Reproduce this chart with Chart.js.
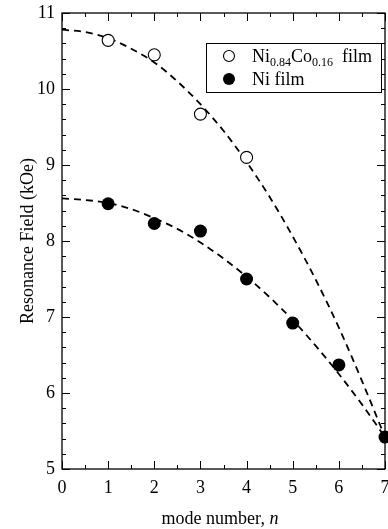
<!DOCTYPE html>
<html>
<head>
<meta charset="utf-8">
<script src="https://cdn.jsdelivr.net/npm/chart.js@4"></script>
<style>
  html, body { margin: 0; padding: 0; background: #fff; }
  #wrap { width: 388px; height: 529px; }
</style>
</head>
<body>
<div id="wrap"><canvas id="myChart" width="388" height="529"></canvas></div>
<script>
// measured points
const modes = [1, 2, 3, 4, 5, 6, 7];
const niCoField = [10.64, 10.45, 9.67, 9.10];
const niField = [8.49, 8.23, 8.13, 7.50, 6.92, 6.37, 5.42];

// dashed fit curves
const fitModes = [0, 0.5, 1, 1.5, 2, 2.5, 3, 3.5, 4, 4.5, 5, 5.5, 6, 6.5, 7];
const niCoFit = [10.78, 10.75, 10.67, 10.53, 10.35, 10.10, 9.80, 9.45, 9.04, 8.58, 8.06, 7.49, 6.86, 6.16, 5.42];
const niFit = [8.56, 8.54, 8.50, 8.42, 8.30, 8.16, 7.98, 7.77, 7.53, 7.26, 6.96, 6.62, 6.25, 5.85, 5.42];

// axis ticks
const xMajor = [0, 1, 2, 3, 4, 5, 6, 7];
const xMinor = [0.5, 1.5, 2.5, 3.5, 4.5, 5.5, 6.5];
const yMajor = [5, 6, 7, 8, 9, 10, 11];
const yMinor = [5.2, 5.4, 5.6, 5.8, 6.2, 6.4, 6.6, 6.8, 7.2, 7.4, 7.6, 7.8, 8.2, 8.4, 8.6, 8.8,
  9.2, 9.4, 9.6, 9.8, 10.2, 10.4, 10.6, 10.8];

const FONT = '"Liberation Serif", "Times New Roman", serif';

const toXY = (xs, ys) => ys.map((v, i) => ({ x: xs[i], y: v }));

// frame + inward ticks on all four sides
const frame = {
  id: 'frame',
  afterDatasetsDraw(chart) {
    const { ctx, chartArea: a, scales: { x, y } } = chart;
    ctx.save();
    ctx.strokeStyle = '#000';
    ctx.lineWidth = 1.3;
    ctx.strokeRect(a.left, a.top, a.right - a.left, a.bottom - a.top);
    ctx.lineWidth = 1;
    ctx.beginPath();
    const xt = (v, len) => {
      const px = Math.round(x.getPixelForValue(v)) + 0.5;
      ctx.moveTo(px, a.bottom); ctx.lineTo(px, a.bottom - len);
      ctx.moveTo(px, a.top); ctx.lineTo(px, a.top + len);
    };
    const yt = (v, len) => {
      const py = Math.round(y.getPixelForValue(v)) + 0.5;
      ctx.moveTo(a.left, py); ctx.lineTo(a.left + len, py);
      ctx.moveTo(a.right, py); ctx.lineTo(a.right - len, py);
    };
    xMajor.forEach(v => xt(v, 8));
    xMinor.forEach(v => xt(v, 4));
    yMajor.forEach(v => yt(v, 8));
    yMinor.forEach(v => yt(v, 4));
    ctx.stroke();
    ctx.restore();
  }
};

// legend box with subscripts
const legendBox = {
  id: 'legendBox',
  afterDraw(chart) {
    const ctx = chart.ctx;
    ctx.save();
    ctx.fillStyle = '#fff';
    ctx.fillRect(206, 43, 176, 50);
    ctx.strokeStyle = '#000';
    ctx.lineWidth = 1;
    ctx.strokeRect(206.5, 43.5, 175, 49);

    ctx.beginPath();
    ctx.arc(229, 56, 5.5, 0, Math.PI * 2);
    ctx.lineWidth = 1.1;
    ctx.stroke();
    ctx.beginPath();
    ctx.arc(229, 79, 6, 0, Math.PI * 2);
    ctx.fillStyle = '#000';
    ctx.fill();

    ctx.textBaseline = 'alphabetic';
    ctx.textAlign = 'left';
    const big = '18px ' + FONT, small = '12px ' + FONT;
    let px = 252;
    const part = (t, f, dy) => { ctx.font = f; ctx.fillText(t, px, 62 + dy); px += ctx.measureText(t).width; };
    part('Ni', big, 0);
    part('0.84', small, 4);
    part('Co', big, 0);
    part('0.16', small, 4);
    part('  film', big, 0);
    ctx.font = big;
    ctx.fillText('Ni film', 252, 85);
    ctx.restore();
  }
};

// x title with italic n
const xTitle = {
  id: 'xTitle',
  afterDraw(chart) {
    const ctx = chart.ctx;
    ctx.save();
    ctx.fillStyle = '#000';
    ctx.textBaseline = 'alphabetic';
    const t1 = 'mode number, ';
    ctx.font = 'italic 18px ' + FONT;
    const w2 = ctx.measureText('n').width;
    ctx.font = '18px ' + FONT;
    const w1 = ctx.measureText(t1).width;
    const x0 = 220 - (w1 + w2) / 2;
    ctx.fillText(t1, x0, 524);
    ctx.font = 'italic 18px ' + FONT;
    ctx.fillText('n', x0 + w1, 524);
    ctx.restore();
  }
};

new Chart(document.getElementById('myChart').getContext('2d'), {
  type: 'scatter',
  data: {
    datasets: [
      {
        data: toXY(modes, niCoField),
        pointRadius: 6, pointHoverRadius: 6,
        pointBackgroundColor: '#fff', pointBorderColor: '#000', pointBorderWidth: 1.1,
        showLine: false, clip: false
      },
      {
        data: toXY(modes, niField),
        pointRadius: 6.5, pointHoverRadius: 6.5,
        pointBackgroundColor: '#000', pointBorderColor: '#000', pointBorderWidth: 0,
        showLine: false, clip: false
      },
      {
        data: toXY(fitModes, niCoFit),
        showLine: true, pointRadius: 0, borderColor: '#000', borderWidth: 1.8,
        borderDash: [7, 5], cubicInterpolationMode: 'monotone', fill: false
      },
      {
        data: toXY(fitModes, niFit),
        showLine: true, pointRadius: 0, borderColor: '#000', borderWidth: 1.8,
        borderDash: [7, 5], cubicInterpolationMode: 'monotone', fill: false
      }
    ]
  },
  options: {
    responsive: false,
    animation: false,
    layout: { autoPadding: false, padding: { top: 13, right: 3, left: 0, bottom: 0 } },
    plugins: { legend: { display: false }, tooltip: { enabled: false } },
    scales: {
      x: {
        type: 'linear', min: 0, max: 7,
        afterFit: s => { s.height = 60; s.paddingRight = 0; s.paddingLeft = 0; },
        grid: { display: false, drawTicks: false },
        border: { display: false },
        ticks: {
          stepSize: 1, padding: 8, color: '#000', maxRotation: 0,
          font: { family: FONT, size: 18 }
        }
      },
      y: {
        type: 'linear', min: 5, max: 11,
        afterFit: s => { s.width = 62; s.paddingTop = 0; s.paddingBottom = 0; },
        grid: { display: false, drawTicks: false },
        border: { display: false },
        title: {
          display: true, text: 'Resonance Field (kOe)', color: '#000',
          font: { family: FONT, size: 18 }, padding: { top: 17, bottom: 0 }
        },
        ticks: {
          stepSize: 1, padding: 7, color: '#000',
          font: { family: FONT, size: 18 }
        }
      }
    }
  },
  plugins: [frame, legendBox, xTitle]
});
</script>
</body>
</html>
